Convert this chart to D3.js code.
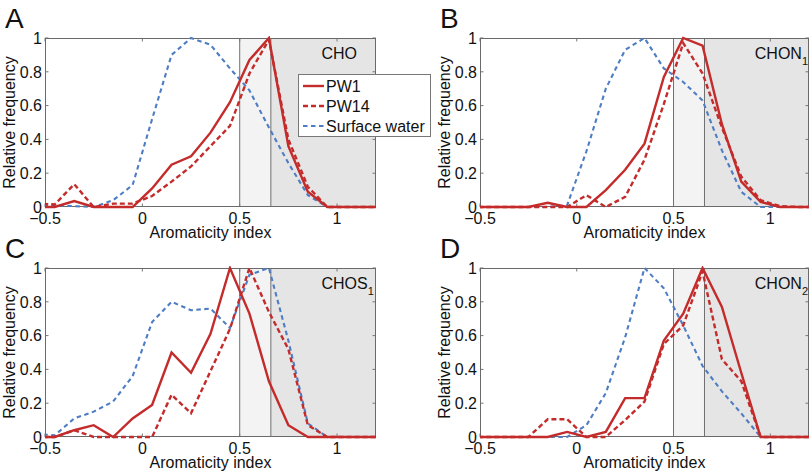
<!DOCTYPE html>
<html><head><meta charset="utf-8">
<script src="https://cdn.jsdelivr.net/npm/d3@7"></script>
<style>body{margin:0;background:#fff}svg{display:block}text{font-family:"Liberation Sans",Arial,Helvetica,sans-serif;fill:#111}</style>
</head><body><svg id="chart" width="812" height="475"></svg>
<script>
// bin centres of the aromaticity index
const binCenters = [-0.55,-0.45,-0.35,-0.25,-0.15,-0.05,0.05,0.15,0.25,0.35,0.45,0.55,0.65,0.75,0.85,0.95,1.05,1.15,1.25];
const seriesNames = ["PW1","PW14","Surface water"];
const panelLetters = ["A","B","C","D"];
const panelLabels = [["CHO",""],["CHON","1"],["CHOS","1"],["CHON","2"]];
const xTicks = [-0.5,0,0.5,1];
const yTicks = [0,0.2,0.4,0.6,0.8,1];
const thresholds = [0.5,0.66,1.2];

// Panel A: CHO
const pw1A     = [0,0,0.035,0,0,0,0.11,0.25,0.30,0.44,0.62,0.87,1.0,0.36,0.09,0,0,0,0];
const pw14A    = [0.02,0.015,0.135,0.0,0.02,0.02,0.065,0.15,0.24,0.36,0.48,0.79,0.99,0.40,0.12,0,0,0,0];
const surfaceA = [0.01,0.01,0.005,0,0.04,0.13,0.52,0.90,1.0,0.96,0.82,0.69,0.47,0.26,0.07,0,0,0,0];
// Panel B: CHON1
const pw1B     = [0,0,0,0,0.025,0,0,0.10,0.22,0.375,0.77,1.0,0.955,0.49,0.15,0.03,0,0,0];
const pw14B    = [0,0,0,0,0,0,0.07,0,0.06,0.28,0.61,0.97,0.79,0.47,0.18,0.04,0.005,0,0];
const surfaceB = [0,0,0,0,0,0.01,0.33,0.70,0.93,1.0,0.82,0.74,0.63,0.335,0.09,0,0,0,0];
// Panel C: CHOS1
const pw1C     = [0,0,0.04,0.07,0,0.11,0.19,0.50,0.38,0.61,1.0,0.73,0.33,0.07,0,0,0,0,0];
const pw14C    = [0,0,0.04,0,0,0,0,0.25,0.14,0.39,0.64,1.0,0.74,0.52,0.07,0,0,0,0];
const surfaceC = [0.02,0.01,0.11,0.15,0.21,0.36,0.68,0.80,0.75,0.76,0.645,0.96,1.0,0.57,0.08,0,0,0,0];
// Panel D: CHON2
const pw1D     = [0,0,0,0,0,0.03,0,0.03,0.23,0.23,0.57,0.73,1.0,0.77,0.38,0,0,0,0];
const pw14D    = [0,0,0,0,0.105,0.105,0,0,0.10,0.21,0.55,0.66,0.98,0.46,0.33,0,0,0,0];
const surfaceD = [0,0,0,0,0,0,0.07,0.26,0.59,1.0,0.88,0.66,0.42,0.27,0.14,0,0,0,0];

const panelSeries = [[pw1A,pw14A,surfaceA],[pw1B,pw14B,surfaceB],[pw1C,pw14C,surfaceC],[pw1D,pw14D,surfaceD]];

const red = "#c42b2b", blue = "#4f7dc4";
const styles = [
  {color:red, width:2.4, dash:null},
  {color:red, width:2.4, dash:"5,3"},
  {color:blue, width:2.1, dash:"4.5,3.5"}
];

const svg = d3.select("#chart");
const lefts = [45,480], tops = [38,268];
const pw = [331,329], ph = 169;

panelSeries.forEach((series,i)=>{
  const col = i%2, row = Math.floor(i/2);
  const L = lefts[col], T = tops[row], W = pw[col], H = ph;
  const x = d3.scaleLinear().domain([-0.5,1.2]).range([L,L+W]);
  const y = d3.scaleLinear().domain([0,1]).range([T+H,T]);
  const g = svg.append("g");

  // shaded regions
  g.append("rect").attr("x",x(thresholds[0])).attr("y",T).attr("width",x(thresholds[1])-x(thresholds[0])).attr("height",H).attr("fill","#f3f3f3");
  g.append("rect").attr("x",x(thresholds[1])).attr("y",T).attr("width",x(thresholds[2])-x(thresholds[1])).attr("height",H).attr("fill","#e5e5e5");
  [thresholds[0],thresholds[1]].forEach(t=>{
    g.append("line").attr("x1",x(t)).attr("x2",x(t)).attr("y1",T).attr("y2",T+H).attr("stroke","#707070").attr("stroke-width",1);
  });

  // ticks (inward, all four sides)
  const tk = 3.5;
  xTicks.forEach(t=>{
    g.append("line").attr("x1",x(t)).attr("x2",x(t)).attr("y1",T+H).attr("y2",T+H-tk).attr("stroke","#777");
    g.append("line").attr("x1",x(t)).attr("x2",x(t)).attr("y1",T).attr("y2",T+tk).attr("stroke","#777");
  });
  yTicks.forEach(t=>{
    g.append("line").attr("x1",L).attr("x2",L+tk).attr("y1",y(t)).attr("y2",y(t)).attr("stroke","#777");
    g.append("line").attr("x1",L+W).attr("x2",L+W-tk).attr("y1",y(t)).attr("y2",y(t)).attr("stroke","#777");
  });

  // frame
  g.append("rect").attr("x",L+0.5).attr("y",T+0.5).attr("width",W-1).attr("height",H-1).attr("fill","none").attr("stroke","#6a6a6a").attr("stroke-width",1);

  // clip
  const cid = "clip"+i;
  svg.append("clipPath").attr("id",cid).append("rect").attr("x",L).attr("y",T-2).attr("width",W).attr("height",H+4);

  const line = d3.line().x((d,j)=>x(binCenters[j])).y(d=>y(d));
  const order = [2,1,0];
  order.forEach(s=>{
    const st = styles[s];
    g.append("path").datum(series[s]).attr("clip-path","url(#"+cid+")")
      .attr("d",line).attr("fill","none").attr("stroke",st.color).attr("stroke-width",st.width)
      .attr("stroke-dasharray",st.dash).attr("stroke-linejoin","miter");
  });

  // tick labels
  xTicks.forEach(t=>{
    g.append("text").attr("x",x(t)).attr("y",T+H+17).attr("text-anchor","middle").attr("font-size",16)
      .text(t<0 ? "\u2212"+Math.abs(t) : String(t));
  });
  yTicks.forEach(t=>{
    g.append("text").attr("x",L-3).attr("y",y(t)).attr("dy","0.36em").attr("text-anchor","end").attr("font-size",16).text(String(t));
  });
  // axis titles
  g.append("text").attr("x",L+W/2).attr("y",T+H+31).attr("text-anchor","middle").attr("font-size",16).text("Aromaticity index");
  g.append("text").attr("transform",`translate(${L-30},${T+H/2}) rotate(-90)`).attr("text-anchor","middle").attr("font-size",16).text("Relative frequency");

  // panel letter
  svg.append("text").attr("x",L-40).attr("y",T-10).attr("font-size",28).text(panelLetters[i]);

  // compound class label
  const lab = g.append("text").attr("x",x(0.92)).attr("y",y(0.875)).attr("font-size",16);
  lab.append("tspan").text(panelLabels[i][0]);
  if (panelLabels[i][1]) lab.append("tspan").attr("font-size",11).attr("dy",6).text(panelLabels[i][1]);
});

// legend (on panel A)
const lg = svg.append("g");
lg.append("rect").attr("x",298.5).attr("y",74.5).attr("width",132).attr("height",62).attr("fill","#fff").attr("stroke","#777");
seriesNames.forEach((n,k)=>{
  const yy = 86 + k*20, st = styles[k];
  lg.append("line").attr("x1",303).attr("x2",324).attr("y1",yy).attr("y2",yy)
    .attr("stroke",st.color).attr("stroke-width",st.width).attr("stroke-dasharray",st.dash);
  lg.append("text").attr("x",326).attr("y",yy+5.7).attr("font-size",16).text(n);
});
</script></body></html>
